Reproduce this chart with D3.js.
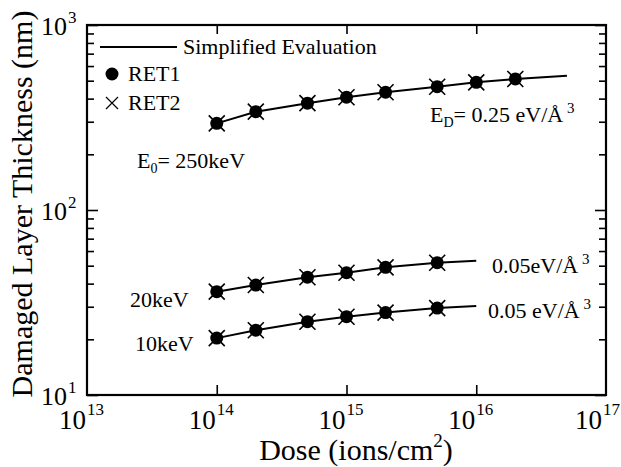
<!DOCTYPE html>
<head>
  <meta charset="utf-8">
  <script src="https://d3js.org/d3.v7.min.js"></script>
  <style>
    body { margin: 0; background: #fff; }
    svg text { font-family: "Liberation Serif", "Times New Roman", serif; fill: #000; }
  </style>
</head>
<body>
<script>
  // doses (ions/cm2) where RET1 / RET2 were evaluated
  var doses = [1e14, 2e14, 5e14, 1e15, 2e15, 5e15, 1e16, 2e16];
  var dosesLow = [1e14, 2e14, 5e14, 1e15, 2e15, 5e15];

  // 250 keV, Ed = 0.25 eV/A3
  var ret1_250 = [294, 340, 378, 407, 433, 464, 490, 511];
  var ret2_250 = [294, 340, 378, 407, 433, 464, 490, 511];
  // 20 keV, Ed = 0.05 eV/A3
  var ret1_20 = [36.2, 39.3, 43.3, 45.8, 49.0, 51.9];
  var ret2_20 = [36.2, 39.3, 43.3, 45.8, 49.0, 51.9];
  // 10 keV, Ed = 0.05 eV/A3
  var ret1_10 = [20.3, 22.4, 24.9, 26.5, 27.9, 29.5];
  var ret2_10 = [20.3, 22.4, 24.9, 26.5, 27.9, 29.5];

  // simplified evaluation curves
  var simDoses250 = [1e14, 2e14, 5e14, 1e15, 2e15, 5e15, 1e16, 2e16, 5e16];
  var sim250 = [294, 340, 378, 407, 433, 464, 490, 511, 532];
  var simDosesLow = [1e14, 2e14, 5e14, 1e15, 2e15, 5e15, 1e16];
  var sim20 = [36.2, 39.3, 43.3, 45.8, 49.0, 51.9, 53.2];
  var sim10 = [20.3, 22.4, 24.9, 26.5, 27.9, 29.5, 30.3];

  var xTickExp = [13, 14, 15, 16, 17];
  var yTickExp = [1, 2, 3];

  var outerWidth = 621, outerHeight = 467;
  var margin = {top: 25, left: 87, right: 15, bottom: 72};
  var width = outerWidth - margin.left - margin.right,
      height = outerHeight - margin.top - margin.bottom;

  var xScale = d3.scaleLog().domain([1e13, 1e17]).range([0, width]);
  var yScale = d3.scaleLog().domain([10, 1000]).range([height, 0]);

  var svg = d3.select("body").append("svg")
    .attr("width", outerWidth)
    .attr("height", outerHeight);

  var g = svg.append("g")
    .attr("transform", "translate(" + margin.left + "," + margin.top + ")");

  var xMajor = xTickExp.map(function(e) { return Math.pow(10, e); });
  var yMajor = yTickExp.map(function(e) { return Math.pow(10, e); });
  var yMinor = [];
  [10, 100].forEach(function(b) {
    for (var k = 2; k <= 9; k++) yMinor.push(b * k);
  });

  // axes, ticks pointing inward
  function styleAxis(sel) {
    sel.select(".domain").remove();
    sel.selectAll("line").attr("stroke", "#000").attr("stroke-width", 1.6);
    sel.selectAll("text").remove();
  }

  g.append("g").attr("transform", "translate(0," + height + ")")
    .call(d3.axisBottom(xScale).tickValues(xMajor.slice(1, -1)).tickSize(-10)).call(styleAxis);
  g.append("g")
    .call(d3.axisTop(xScale).tickValues(xMajor.slice(1, -1)).tickSize(-9)).call(styleAxis);
  g.append("g")
    .call(d3.axisLeft(yScale).tickValues(yMajor).tickSize(-11)).call(styleAxis);
  g.append("g")
    .call(d3.axisLeft(yScale).tickValues(yMinor).tickSize(-7)).call(styleAxis);
  g.append("g").attr("transform", "translate(" + width + ",0)")
    .call(d3.axisRight(yScale).tickValues(yMajor).tickSize(-11)).call(styleAxis);
  g.append("g").attr("transform", "translate(" + width + ",0)")
    .call(d3.axisRight(yScale).tickValues(yMinor).tickSize(-7)).call(styleAxis);

  // frame
  g.append("rect")
    .attr("width", width).attr("height", height)
    .attr("fill", "none").attr("stroke", "#000").attr("stroke-width", 2.2);

  // x tick labels ("10" ends near the tick, exponent follows)
  xTickExp.forEach(function(e, i) {
    var x = xScale(Math.pow(10, e)) - (i === xTickExp.length - 1 ? 4 : 1);
    g.append("text").attr("x", x).attr("y", height + 34)
      .attr("text-anchor", "end").style("font-size", "27px").text("10");
    g.append("text").attr("x", x + 1).attr("y", height + 20)
      .style("font-size", "17px").text(e);
  });

  // y tick labels
  yTickExp.forEach(function(e) {
    var y = yScale(Math.pow(10, e));
    g.append("text").attr("x", -20).attr("y", y + 10)
      .attr("text-anchor", "end").style("font-size", "26px").text("10");
    g.append("text").attr("x", -19).attr("y", y - 2)
      .style("font-size", "17px").text(e);
  });

  // axis titles
  var xTitle = svg.append("text")
    .attr("x", 356).attr("y", 460)
    .attr("text-anchor", "middle").style("font-size", "30px");
  xTitle.append("tspan").text("Dose (ions/cm");
  xTitle.append("tspan").attr("dy", -13).style("font-size", "19px").text("2");
  xTitle.append("tspan").attr("dy", 13).text(")");

  svg.append("text")
    .attr("transform", "translate(32,204) rotate(-90)")
    .attr("text-anchor", "middle").style("font-size", "30px")
    .text("Damaged Layer Thickness (nm)");

  // simplified evaluation lines
  var line = d3.line()
    .x(function(d) { return xScale(d[0]); })
    .y(function(d) { return yScale(d[1]); });

  [[simDoses250, sim250], [simDosesLow, sim20], [simDosesLow, sim10]].forEach(function(s) {
    g.append("path")
      .datum(d3.zip(s[0], s[1]))
      .attr("d", line)
      .attr("fill", "none").attr("stroke", "#000").attr("stroke-width", 2);
  });

  // RET1 dots
  [[doses, ret1_250], [dosesLow, ret1_20], [dosesLow, ret1_10]].forEach(function(s) {
    g.selectAll(null).data(d3.zip(s[0], s[1])).enter()
      .append("circle")
      .attr("cx", function(d) { return xScale(d[0]); })
      .attr("cy", function(d) { return yScale(d[1]); })
      .attr("r", 6.5).attr("fill", "#000");
  });

  // RET2 crosses
  var xs = 8;
  function cross(sel) {
    sel.attr("d", "M" + (-xs) + "," + (-xs) + "L" + xs + "," + xs + "M" + (-xs) + "," + xs + "L" + xs + "," + (-xs))
      .attr("stroke", "#000").attr("stroke-width", 1.6).attr("fill", "none");
  }
  [[doses, ret2_250], [dosesLow, ret2_20], [dosesLow, ret2_10]].forEach(function(s) {
    g.selectAll(null).data(d3.zip(s[0], s[1])).enter()
      .append("path")
      .attr("transform", function(d) { return "translate(" + xScale(d[0]) + "," + yScale(d[1]) + ")"; })
      .call(cross);
  });

  // legend
  svg.append("line").attr("x1", 100).attr("x2", 177).attr("y1", 47).attr("y2", 47)
    .attr("stroke", "#000").attr("stroke-width", 2);
  svg.append("text").attr("x", 183).attr("y", 54).style("font-size", "22px").text("Simplified Evaluation");
  svg.append("circle").attr("cx", 112).attr("cy", 74).attr("r", 6.5).attr("fill", "#000");
  svg.append("text").attr("x", 128).attr("y", 81).style("font-size", "22px").text("RET1");
  svg.append("path").attr("transform", "translate(112,103) scale(0.75)").call(cross);
  svg.append("text").attr("x", 128).attr("y", 110).style("font-size", "22px").text("RET2");

  // annotations
  function subText(x, y, parts) {
    var t = svg.append("text").attr("x", x).attr("y", y).style("font-size", "22px");
    parts.forEach(function(p) {
      var ts = t.append("tspan").text(p.t);
      if (p.dy) ts.attr("dy", p.dy);
      if (p.s) ts.style("font-size", p.s);
    });
  }
  subText(137, 168, [{t: "E"}, {t: "0", dy: 5, s: "14px"}, {t: "= 250keV", dy: -5}]);
  subText(430, 122, [{t: "E"}, {t: "D", dy: 5, s: "14px"}, {t: "= 0.25 eV/Å", dy: -5}, {t: " 3", dy: -9, s: "15px"}]);
  subText(492, 273, [{t: "0.05eV/Å"}, {t: " 3", dy: -9, s: "15px"}]);
  subText(488, 318, [{t: "0.05 eV/Å"}, {t: " 3", dy: -9, s: "15px"}]);
  subText(130, 307, [{t: "20keV"}]);
  subText(135, 351, [{t: "10keV"}]);
</script>
</body>
